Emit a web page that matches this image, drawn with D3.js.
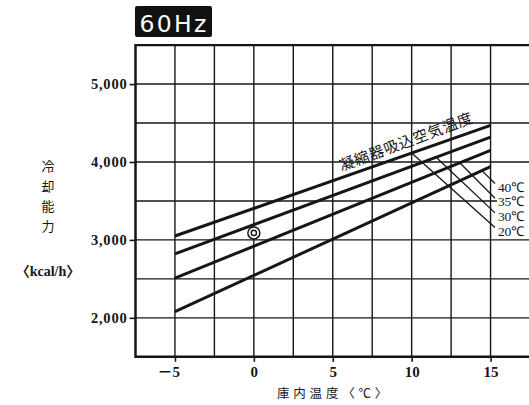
<!DOCTYPE html>
<html>
<head>
<meta charset="utf-8">
<script src="https://cdn.jsdelivr.net/npm/d3@7/dist/d3.min.js"></script>
<style>
  html, body { margin: 0; padding: 0; background: #fff; }
  svg { display: block; }
</style>
</head>
<body>
<script>
// Cooling capacity vs. cabinet temperature, 60 Hz, for four condenser intake air temperatures.
const cabinetTemp = [-5, 15];                 // 庫内温度 (℃)
const seriesNames = ["20℃", "30℃", "35℃", "40℃"];
const cap20 = [3050, 4470];                   // kcal/h
const cap30 = [2820, 4320];
const cap35 = [2510, 4150];
const cap40 = [2080, 3940];
const seriesValues = [cap20, cap30, cap35, cap40];

const yTicks = [2000, 3000, 4000, 5000];
const xTicks = [-5, 0, 5, 10, 15];
const xTickLabels = ["－5", "0", "5", "10", "15"];

// Rated point (◎)
const ratedTemp = 0;
const ratedCap = 3090;

// Where each leader line leaves its curve (℃ along the curve)
const leaderFrom = [10, 11.55, 13.05, 14.45];
// Legend labels, top to bottom
const legendOrder = ["40℃", "35℃", "30℃", "20℃"];

const W = 529, H = 405;
const svg = d3.select("body").append("svg").attr("width", W).attr("height", H);
svg.append("rect").attr("width", W).attr("height", H).attr("fill", "#fff");

const x = d3.scaleLinear().domain([-7.5, 20]).range([135.5, 135.5 + 27.5 * 15.78]);
const y = d3.scaleLinear().domain([1500, 5500]).range([356.8, 45.1]);

const ink = "#161616";

// Grid
const grid = svg.append("g").attr("stroke", ink).attr("stroke-width", 1.4);
d3.range(-7.5, 20.01, 2.5).forEach(v => {
  grid.append("line").attr("x1", x(v)).attr("x2", x(v))
    .attr("y1", y(1500)).attr("y2", y(5500));
});
d3.range(1500, 5501, 500).forEach(v => {
  grid.append("line").attr("x1", x(-7.5)).attr("x2", W)
    .attr("y1", y(v)).attr("y2", y(v));
});

// Frame
const frame = svg.append("g").attr("stroke", ink).attr("stroke-width", 2.4);
frame.append("line").attr("x1", x(-7.5)).attr("x2", W).attr("y1", y(5500)).attr("y2", y(5500));
frame.append("line").attr("x1", x(-7.5)).attr("x2", W).attr("y1", y(1500)).attr("y2", y(1500));
frame.append("line").attr("x1", x(-7.5)).attr("x2", x(-7.5)).attr("y1", y(1500) + 1.2).attr("y2", y(5500) - 1.2);

// Axes
const yAxis = svg.append("g").attr("transform", `translate(${x(-7.5)},0)`)
  .call(d3.axisLeft(y).tickValues(yTicks).tickFormat(d3.format(",")).tickSize(6).tickPadding(2));
yAxis.select(".domain").remove();
yAxis.selectAll(".tick line").attr("stroke", ink).attr("stroke-width", 1.6);
yAxis.selectAll(".tick text")
  .attr("fill", ink)
  .style("font-family", "'Liberation Serif', serif")
  .style("font-weight", "bold")
  .style("font-size", "14.5px")
  .style("letter-spacing", "0.8px");

const xAxis = svg.append("g").attr("transform", `translate(0,${y(1500)})`)
  .call(d3.axisBottom(x).tickValues(xTicks)
    .tickFormat((d, i) => xTickLabels[i]).tickSize(5).tickPadding(5));
xAxis.select(".domain").remove();
xAxis.selectAll(".tick line").attr("stroke", ink).attr("stroke-width", 1.6);
xAxis.selectAll(".tick text")
  .attr("fill", ink)
  .style("font-family", "'Liberation Serif', 'Noto Sans CJK JP', serif")
  .style("font-weight", "bold")
  .style("font-size", "15px")
  .each(function (d) {
    if (d < 0) d3.select(this).attr("text-anchor", "end").attr("x", 4.5);
  });

// Capacity lines
const line = d3.line().x(d => x(d[0])).y(d => y(d[1]));
svg.append("g").selectAll("path")
  .data(seriesValues)
  .join("path")
  .attr("d", vals => line(cabinetTemp.map((t, i) => [t, vals[i]])))
  .attr("fill", "none")
  .attr("stroke", ink)
  .attr("stroke-width", 3)
  .attr("stroke-linecap", "butt");

// Rated point ◎
svg.append("circle").attr("cx", x(ratedTemp)).attr("cy", y(ratedCap)).attr("r", 6)
  .attr("fill", "#fff").attr("stroke", ink).attr("stroke-width", 1.5);
svg.append("circle").attr("cx", x(ratedTemp)).attr("cy", y(ratedCap)).attr("r", 2.6)
  .attr("fill", "none").attr("stroke", ink).attr("stroke-width", 1.4);

// Legend labels with leader lines
const labelX = 498, labelBase0 = 191.5, labelStep = 14.7;
svg.append("rect").attr("x", labelX - 1).attr("y", 178).attr("width", W - labelX + 1).attr("height", 59)
  .attr("fill", "#fff");

const leaders = svg.append("g").attr("stroke", ink).attr("stroke-width", 1.3);
seriesNames.forEach((name, i) => {
  const along = d3.scaleLinear().domain(cabinetTemp).range(seriesValues[i]);
  const t = leaderFrom[i];
  const row = legendOrder.indexOf(name);
  const base = labelBase0 + row * labelStep;
  leaders.append("line")
    .attr("x1", x(t)).attr("y1", y(along(t)))
    .attr("x2", labelX - 3).attr("y2", base - 8);
});
svg.append("g").selectAll("text")
  .data(legendOrder)
  .join("text")
  .attr("x", labelX)
  .attr("y", (d, i) => labelBase0 + i * labelStep)
  .attr("fill", ink)
  .style("font-family", "'Liberation Serif', serif")
  .style("font-size", "13.5px")
  .style("letter-spacing", "-0.3px")
  .text(d => d);

// Curve family caption along the top line
{
  const x1 = x(cabinetTemp[0]), y1 = y(cap20[0]);
  const x2 = x(cabinetTemp[1]), y2 = y(cap20[1]);
  const ang = Math.atan2(y2 - y1, x2 - x1) * 180 / Math.PI - 1;
  const t0 = 5.7;
  const along = d3.scaleLinear().domain(cabinetTemp).range(cap20);
  svg.append("text")
    .attr("transform", `translate(${x(t0)},${y(along(t0))}) rotate(${ang})`)
    .attr("y", -6)
    .attr("fill", ink)
    .style("font-family", "'Noto Sans CJK JP', sans-serif")
    .style("font-size", "15px")
    .style("letter-spacing", "0.7px")
    .text("凝縮器吸込空気温度");
}

// Title badge
svg.append("rect").attr("x", 135).attr("y", 6).attr("width", 77).attr("height", 31)
  .attr("rx", 2).attr("fill", "#111");
svg.append("text").attr("x", 139.5).attr("y", 31.5)
  .attr("fill", "#fff")
  .style("font-family", "'DejaVu Sans', sans-serif")
  .style("font-size", "23.5px")
  .style("letter-spacing", "2.3px")
  .text("60Hz");

// Y axis title (vertical)
const yTitle = ["冷", "却", "能", "力"];
svg.append("g").selectAll("text")
  .data(yTitle)
  .join("text")
  .attr("x", 48)
  .attr("y", (d, i) => 170.5 + i * 20)
  .attr("text-anchor", "middle")
  .attr("fill", ink)
  .style("font-family", "'Noto Sans CJK JP', sans-serif")
  .style("font-size", "13px")
  .text(d => d);
svg.append("text").attr("x", 48).attr("y", 276)
  .attr("text-anchor", "middle")
  .attr("fill", ink)
  .style("font-family", "'Liberation Serif', 'Noto Sans CJK JP', serif")
  .style("font-weight", "bold")
  .style("font-size", "14px")
  .text("〈kcal/h〉");

// X axis title
svg.append("text").attr("x", 277).attr("y", 398)
  .attr("fill", ink)
  .style("font-family", "'Noto Sans CJK JP', sans-serif")
  .style("font-size", "12.5px")
  .style("letter-spacing", "3.8px")
  .text("庫内温度〈℃〉");
</script>
</body>
</html>
